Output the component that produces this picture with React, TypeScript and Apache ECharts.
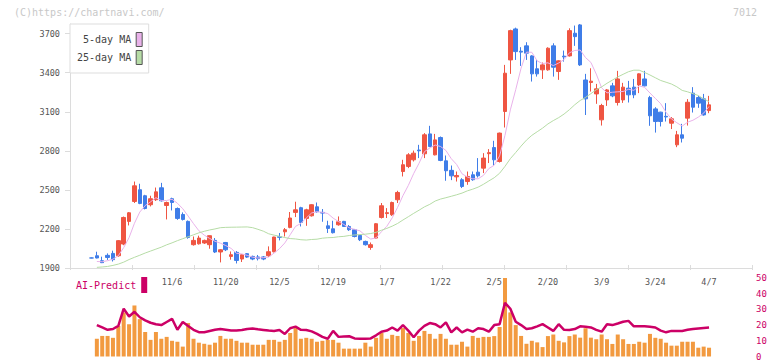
import React, { useEffect, useRef } from 'react';
import * as echarts from 'echarts';

// Trading days 2025-10-15 .. 2026-04-07
const dates = [
  '10/15','10/16','10/17','10/20','10/21','10/22','10/23','10/24','10/27','10/28','10/29','10/30','10/31',
  '11/4','11/5','11/6','11/7','11/10','11/11','11/12','11/13','11/14','11/17','11/18','11/19','11/20','11/21','11/25','11/26','11/27','11/28',
  '12/1','12/2','12/3','12/4','12/5','12/8','12/9','12/10','12/11','12/12','12/15','12/16','12/17','12/18','12/19','12/22','12/23','12/24','12/25','12/26','12/29','12/30',
  '1/5','1/6','1/7','1/8','1/9','1/13','1/14','1/15','1/16','1/19','1/20','1/21','1/22','1/23','1/26','1/27','1/28','1/29','1/30',
  '2/2','2/3','2/4','2/5','2/6','2/9','2/10','2/12','2/13','2/16','2/17','2/18','2/19','2/20','2/24','2/25','2/26','2/27',
  '3/2','3/3','3/4','3/5','3/6','3/9','3/10','3/11','3/12','3/13','3/16','3/17','3/18','3/19','3/23','3/24','3/25','3/26','3/27','3/30','3/31',
  '4/1','4/2','4/3','4/6','4/7',
];

const labelDates = ['11/6','11/20','12/5','12/19','1/7','1/22','2/5','2/20','3/9','3/24','4/7'];

const opens = [
  1977,1994,1956,1997,2012,1994,2084,2258,2411,2501,2455,2386,2424,2516,2380,2432,2357,2311,2258,2079,
  2086,2092,2079,2112,2023,2096,1989,2020,1969,2010,1989,1985,1985,1994,2025,2140,2178,2212,2327,2363,
  2281,2301,2370,2327,2224,2201,2232,2258,2219,2194,2150,2104,2058,2130,2288,2318,2309,2424,2641,2680,
  2731,2806,2777,2930,2769,2902,2723,2650,2600,2578,2564,2616,2636,2667,2778,2825,2718,3102,3498,3736,
  3565,3606,3529,3430,3422,3422,3606,3409,3527,3529,3703,3767,3344,3325,3237,3038,3191,3299,3171,3191,
  3281,3289,3306,3352,3209,3122,3097,3065,3012,2846,2923,3051,3243,3209,3199,3109,
];
const closes = [
  1977,1977,1941,1981,1964,2110,2288,2324,2531,2396,2357,2432,2485,2416,2403,2403,2281,2273,2135,2112,
  2130,2112,2148,2023,2040,2040,2002,1958,2002,1984,1969,1972,1969,2025,2138,2136,2194,2284,2347,2250,
  2347,2386,2332,2322,2204,2171,2255,2219,2194,2142,2117,2079,2079,2240,2378,2325,2403,2480,2693,2769,
  2782,2800,2923,2833,2884,2726,2647,2608,2610,2526,2603,2578,2608,2744,2786,2731,2936,3396,3723,3562,
  3558,3550,3391,3391,3460,3588,3442,3491,3521,3723,3677,3460,3199,3335,3276,3148,3268,3222,3352,3289,
  3230,3230,3391,3299,3069,3025,3025,3060,3046,2923,2897,3173,3135,3166,3076,3153,
];
const lows = [
  1975,1974,1938,1962,1950,1987,2075,2227,2399,2390,2350,2373,2415,2410,2273,2342,2270,2265,2125,2072,
  2080,2085,2048,2015,1943,2030,1964,1935,1946,1978,1960,1958,1960,1985,2020,2112,2142,2205,2291,2219,
  2224,2295,2325,2255,2169,2165,2225,2215,2185,2135,2107,2072,2040,2125,2280,2284,2300,2399,2603,2667,
  2718,2744,2744,2828,2765,2720,2570,2575,2564,2514,2539,2570,2595,2629,2706,2687,2710,2979,3391,3498,
  3452,3498,3332,3370,3352,3415,3370,3345,3485,3524,3606,3452,3075,3255,3161,2994,3145,3212,3148,3168,
  3171,3204,3243,3295,2992,2940,2987,3025,2967,2828,2864,2994,3094,3130,3070,3089,
];
const highs = [
  1980,2025,1987,2012,2033,2115,2295,2330,2564,2547,2462,2455,2518,2554,2410,2440,2365,2327,2265,2142,
  2148,2118,2150,2130,2045,2100,2027,2030,2005,2015,1995,2000,1992,2066,2140,2169,2207,2330,2409,2370,
  2355,2390,2403,2353,2263,2263,2296,2262,2230,2200,2155,2110,2096,2245,2399,2360,2410,2493,2731,2782,
  2802,2846,2936,2992,2930,2910,2764,2687,2641,2590,2641,2641,2744,2782,2813,2877,2940,3460,3730,3746,
  3596,3634,3535,3498,3478,3595,3626,3495,3570,3741,3762,3774,3391,3434,3314,3161,3275,3322,3414,3322,
  3337,3352,3395,3414,3222,3135,3100,3166,3059,2953,3007,3197,3289,3222,3237,3222,
];

const ma5Lead = [null, 1950, 1948, 1956];
const ma25Lead = [
  null, 1905, 1908, 1912, 1920, 1930, 1945, 1965, 1982, 1998, 2015, 2030, 2045, 2060, 2078, 2093,
  2110, 2125, 2140, 2155, 2170, 2182, 2192, 2200,
];

// Lower panel (0-50 scale)
const volumes = [
  null, 11.3, 13.1, 13.1, 11.9, 19.5, 28.1, 20.6, 32.5, 23.8, 15.6, 10.6, 15.6, 11.3, 12.5, 10, 9.4, 6.3, 21.3, 11.3,
  8.8, 8.1, 7.5, 8.8, 13.1, 11.3, 11.3, 10, 8.8, 8.8, 7.5, 7.5, 7.5, 10.6, 10.6, 9.4, 10.6, 15, 18.1, 11.3,
  11.9, 11.3, 9.4, 10, 10.6, 10.6, 8.8, 5, 5, 5, 5, 8.8, 6.3, 11.9, 15, 11.3, 13.8, 13.1, 18.1, 15,
  10, 13.1, 16.3, 14.4, 11.3, 14.4, 11.3, 7.5, 7.5, 9.4, 6.3, 13.1, 11.9, 12.5, 12.5, 13, 18.8, 50, 28.1, 20,
  13.1, 8.1, 10, 9, 6, 13, 14, 10, 9, 13, 14, 12, 18, 12, 11, 14, 11, 8, 14, 11,
  8, 8, 9.4, 8.8, 14.4, 11.9, 11.3, 8.8, 6.9, 6.9, 9.4, 9.4, 9.4, 5.6, 6.3, 5.6,
];
const aiPredict = [
  null, 20, 18.5, 17, 17.5, 19.5, 30.5, 25.5, 28.5, 25, 23, 21.5, 20.5, 20, 22, 24, 17, 22, 19.5, 17,
  15.5, 15.5, 16.3, 17, 17.5, 17, 16.5, 16.5, 16.9, 17.5, 17.9, 17.3, 16.9, 16.5, 16.3, 16.9, 14.4, 18, 19, 17,
  16.9, 16, 14.4, 12.5, 11.3, 16.3, 12.5, 12.8, 12.9, 11.5, 11.3, 11.3, 11.5, 13.5, 15.8, 16.5, 18.5, 16.5, 20, 16.5,
  12.3, 16.5, 19.5, 21.3, 20.6, 18.5, 21.7, 15.4, 18.5, 15.4, 17.1, 15.8, 18, 17.5, 15.8, 20, 20.6, 34.2, 30.4, 22.1,
  20, 17.5, 18, 19.2, 20.6, 18.5, 16.3, 20.6, 17, 16.9, 17.5, 19.2, 19, 18.5, 17, 15.8, 20.6, 20, 21, 22.1,
  22.7, 19.2, 19.2, 19.2, 19, 18.5, 16.5, 15.4, 16.3, 16.3, 16.3, 17, 17.5, 17.9, 18.2, 18.5,
];

const yTicks = [1900, 2200, 2500, 2800, 3100, 3400, 3700];

const PAD_LEFT = 4;
const PAD_RIGHT = 8;
const MONO = '"DejaVu Sans Mono", monospace';
const RED = '#ef5542';
const BLUE = '#3f7de8';

function padArr(arr: any[], fill: any) {
  return [...Array(PAD_LEFT).fill(fill), ...arr, ...Array(PAD_RIGHT).fill(fill)];
}

function movingAvg(n: number, lead: (number | null)[]) {
  return closes.map((_, i) => {
    if (i < lead.length) return lead[i];
    const w = closes.slice(i - n + 1, i + 1);
    return Math.round((w.reduce((a, b) => a + b, 0) / n) * 10) / 10;
  });
}

export default function App() {
  const ref = useRef<HTMLDivElement>(null);
  useEffect(() => {
    if (!ref.current) return;
    const chart = echarts.init(ref.current, undefined, { renderer: 'svg' });
    const cats = [
      ...Array.from({ length: PAD_LEFT }, (_, k) => `_l${k}`),
      ...dates,
      ...Array.from({ length: PAD_RIGHT }, (_, k) => `_r${k}`),
    ];
    const candle = padArr(dates.map((_, i) => [opens[i], closes[i], lows[i], highs[i]]), '-');
    const ma5 = padArr(movingAvg(5, ma5Lead), null);
    const ma25 = padArr(movingAvg(25, ma25Lead), null);
    const vol = padArr(volumes, null);
    const ai = padArr(aiPredict, null);
    const maxHigh = Math.max(...highs);

    const option: any = {
      animation: false,
      backgroundColor: '#fff',
      grid: [
        { left: 70, right: 20, top: 24, height: 244 },
        { left: 70, right: 20, top: 278, height: 80 },
      ],
      graphic: [
        { type: 'text', left: 14, top: 7, style: { text: '(C)https://chartnavi.com/', fill: '#c8c8c8', font: `10px ${MONO}` } },
        { type: 'text', right: 15, top: 7, style: { text: '7012', fill: '#c8c8c8', font: `10px ${MONO}` } },
      ],
      legend: [
        {
          data: [{ name: '5-day MA', icon: 'rect' }, { name: '25-day MA', icon: 'rect' }],
          orient: 'vertical', align: 'right', left: 70, top: 24,
          itemWidth: 6, itemHeight: 14, itemGap: 3, padding: [8, 6, 8, 7],
          backgroundColor: '#fff', borderColor: '#dddddd', borderWidth: 1,
          textStyle: { color: '#444', fontSize: 10, fontFamily: MONO },
          itemStyle: { borderColor: '#555', borderWidth: 1 },
          selectedMode: false,
        },
        {
          data: [{ name: 'AI-Predict', icon: 'rect' }],
          align: 'right', left: 76, top: 277, itemWidth: 6, itemHeight: 16, padding: 0,
          textStyle: { color: '#cc0066', fontSize: 10, fontFamily: MONO },
          itemStyle: { borderWidth: 0 },
          selectedMode: false,
        },
      ],
      xAxis: [
        {
          type: 'category', gridIndex: 0, data: cats, boundaryGap: false, position: 'bottom',
          axisLine: { show: false, onZero: false }, axisTick: { show: false }, splitLine: { show: false },
          axisLabel: {
            interval: (_i: number, v: string) => labelDates.includes(v),
            color: '#555', fontSize: 8.5, fontFamily: MONO, margin: 9,
          },
        },
        {
          type: 'value', gridIndex: 0, min: 0, max: 11, interval: 1, position: 'bottom',
          axisLine: { show: true, onZero: false, lineStyle: { color: '#dcdcdc' } },
          axisTick: { show: true, inside: true, length: 3, lineStyle: { color: '#dcdcdc' } },
          axisLabel: { show: false }, splitLine: { show: false },
        },
        {
          type: 'value', gridIndex: 0, min: 0, max: 11, interval: 1, position: 'bottom',
          axisLine: { show: false, onZero: false },
          axisTick: { show: true, length: 2, lineStyle: { color: '#dcdcdc' } },
          axisLabel: { show: false }, splitLine: { show: false },
        },
        {
          type: 'category', gridIndex: 1, data: cats, boundaryGap: false,
          axisLine: { show: false, onZero: false }, axisTick: { show: false }, axisLabel: { show: false }, splitLine: { show: false },
        },
      ],
      yAxis: [
        {
          type: 'value', gridIndex: 0, min: 1900, max: maxHigh, position: 'left',
          axisLine: { show: true, lineStyle: { color: '#dcdcdc' } },
          axisTick: { show: true, length: 5, customValues: yTicks, lineStyle: { color: '#dcdcdc' } },
          axisLabel: {
            customValues: yTicks, color: '#555', fontSize: 8.5, fontFamily: MONO, margin: 10,
            formatter: (v: number) => String(v),
          },
          splitLine: { show: false },
        },
        {
          type: 'value', gridIndex: 1, min: 0, max: 50, interval: 10, position: 'right',
          axisLine: { show: false }, axisTick: { show: false }, splitLine: { show: false },
          axisLabel: { color: '#cc0066', fontSize: 9, fontFamily: MONO, margin: 4, formatter: (v: number) => String(v) },
        },
      ],
      series: [
        {
          type: 'candlestick', name: 'price', xAxisIndex: 0, yAxisIndex: 0, data: candle, barWidth: 4,
          itemStyle: { color: RED, color0: BLUE, borderColor: RED, borderColor0: BLUE, borderWidth: 1 },
        },
        {
          type: 'line', name: '5-day MA', xAxisIndex: 0, yAxisIndex: 0, data: ma5, showSymbol: false,
          color: '#e9b2ea', lineStyle: { width: 1, color: '#e9b2ea' }, z: 3,
        },
        {
          type: 'line', name: '25-day MA', xAxisIndex: 0, yAxisIndex: 0, data: ma25, showSymbol: false,
          color: '#b6dca6', lineStyle: { width: 1, color: '#b6dca6' }, z: 3,
        },
        {
          type: 'bar', name: 'volume', xAxisIndex: 3, yAxisIndex: 1, data: vol, barWidth: 4,
          itemStyle: { color: '#f29a40' },
        },
        {
          type: 'line', name: 'AI-Predict', xAxisIndex: 3, yAxisIndex: 1, data: ai, showSymbol: false,
          color: '#cc0066', lineStyle: { width: 2.5, color: '#cc0066' }, z: 4,
        },
      ],
    };
    chart.setOption(option);
    return () => chart.dispose();
  }, []);
  return <div ref={ref} style={{ position: 'absolute', left: 0, top: 0, width: 772, height: 361 }} />;
}
